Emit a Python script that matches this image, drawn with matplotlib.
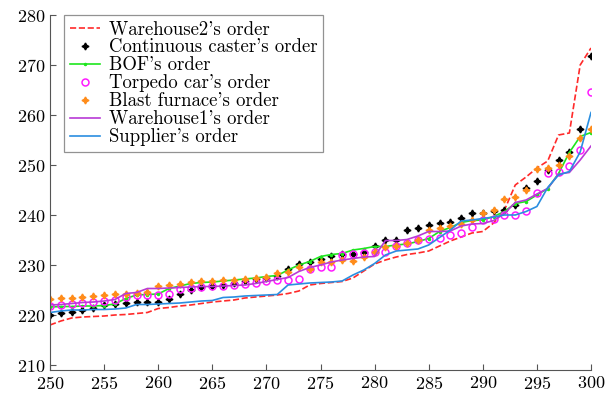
import matplotlib
matplotlib.use("Agg")
import matplotlib.pyplot as plt

plt.rcParams['font.family'] = ['cmr10', 'DejaVu Serif']
plt.rcParams['mathtext.fontset'] = 'cm'
plt.rcParams['axes.formatter.use_mathtext'] = True

t = list(range(250, 301))

warehouse2 = [218.0, 218.8, 219.4, 219.6, 219.7, 219.8, 220.0, 220.1, 220.3, 220.5,
              221.3, 221.5, 221.8, 222.0, 222.3, 222.6, 222.8, 223.0, 223.4, 223.6,
              223.8, 224.0, 224.3, 224.8, 226.0, 226.3, 226.5, 226.7, 227.4, 228.8,
              230.2, 231.0, 231.6, 232.1, 232.4, 232.8, 233.8, 234.8, 235.6, 236.4,
              236.7, 238.4, 241.0, 246.0, 247.6, 249.4, 250.8, 256.0, 256.4, 270.0,
              273.4]

caster = [220.1, 220.5, 220.7, 221.1, 221.5, 222.0, 222.2, 222.5, 222.7, 222.7,
          222.7, 223.3, 224.3, 225.1, 225.7, 225.8, 226.0, 226.4, 226.8, 227.2,
          227.5, 227.8, 229.3, 230.2, 230.7, 231.3, 231.8, 232.2, 232.3, 232.7,
          233.8, 235.1, 235.1, 237.0, 237.5, 238.0, 238.5, 238.7, 239.5, 240.5,
          240.5, 240.9, 241.1, 242.0, 245.5, 246.9, 249.0, 251.1, 252.7, 257.3,
          271.8]

bof = [221.6, 221.7, 221.7, 221.8, 221.8, 221.9, 222.2, 223.3, 224.0, 224.1,
       224.2, 225.3, 225.8, 226.3, 226.5, 226.6, 226.8, 227.0, 227.2, 227.4,
       227.7, 227.9, 229.0, 230.0, 230.7, 231.7, 232.1, 232.3, 233.0, 233.3,
       233.7, 233.7, 234.0, 234.2, 234.7, 235.3, 236.7, 237.5, 238.5, 238.9,
       239.0, 239.7, 240.7, 242.3, 242.7, 244.0, 245.3, 248.3, 252.5, 255.7,
       256.5]

torpedo = [221.9, 222.0, 222.2, 222.5, 222.7, 222.9, 223.1, 223.6, 224.0, 224.0,
           224.1, 224.2, 225.3, 225.5, 225.7, 225.8, 225.8, 226.0, 226.3, 226.5,
           226.9, 227.0, 227.1, 227.3, 229.3, 229.7, 229.7, 232.1, 232.2, 232.5,
           232.7, 232.7, 233.8, 234.5, 235.0, 235.3, 235.5, 236.0, 236.5, 237.7,
           239.1, 239.3, 240.0, 240.0, 240.9, 244.4, 248.4, 248.7, 249.8, 253.1,
           264.6]

furnace = [223.3, 223.5, 223.5, 223.7, 223.8, 224.0, 224.2, 224.3, 224.4, 224.6,
           225.8, 226.0, 226.3, 226.6, 226.8, 226.9, 227.0, 227.1, 227.3, 227.5,
           227.7, 228.5, 228.7, 229.6, 229.3, 230.6, 230.7, 231.0, 230.9, 231.7,
           232.7, 233.7, 233.8, 234.5, 235.0, 237.0, 237.5, 237.8, 238.3, 239.1,
           240.4, 241.0, 243.3, 243.7, 245.0, 249.2, 249.5, 250.1, 251.8, 255.5,
           257.3]

warehouse1 = [222.0, 222.1, 222.3, 222.5, 222.6, 222.8, 223.1, 224.3, 224.5, 225.3,
              225.3, 225.4, 225.5, 225.6, 225.7, 225.7, 225.8, 225.9, 226.0, 226.3,
              226.7, 227.1, 227.5, 228.7, 229.5, 230.0, 230.6, 231.0, 231.3, 231.6,
              231.7, 234.9, 234.9, 235.1, 235.8, 236.7, 236.7, 236.8, 237.8, 238.2,
              238.3, 238.9, 240.3, 242.5, 243.0, 244.2, 245.3, 248.2, 248.5, 251.0,
              253.8]

supplier = [220.5, 220.8, 221.0, 221.0, 221.1, 221.1, 221.2, 221.4, 222.1, 222.1,
            222.2, 222.3, 222.4, 222.6, 222.8, 222.9, 223.5, 223.6, 223.8, 223.9,
            224.0, 224.1, 226.0, 226.2, 226.4, 226.5, 226.6, 226.8, 228.0, 229.0,
            230.3, 232.0, 232.8, 233.0, 233.2, 234.0, 235.5, 237.0, 238.8, 239.0,
            239.3, 239.6, 240.0, 240.0, 240.7, 241.7, 245.5, 248.0, 248.7, 252.6,
            260.5]

fig = plt.figure(figsize=(6.05, 3.93), dpi=100)
ax = fig.add_axes([50 / 605, 23 / 393, 541 / 605, 355 / 393])

star = (4, 1, 0)
ax.plot(t, warehouse2, '--', color='#ff2a2a', lw=1.2, label="Warehouse2's order")
ax.plot(t, caster, linestyle='none', marker=star, ms=5, color='black',
        label="Continuous caster's order")
ax.plot(t, bof, '-', color='#1ee61e', lw=1.2, marker='.', ms=3, label="BOF's order")
ax.plot(t, torpedo, linestyle='none', marker='o', ms=5, mfc='none', mec='#ff1aff',
        mew=1.1, label="Torpedo car's order")
ax.plot(t, furnace, linestyle='none', marker=star, ms=5, color='#ff8c1a',
        label="Blast furnace's order")
ax.plot(t, warehouse1, '-', color='#b83ad6', lw=1.2, label="Warehouse1's order")
ax.plot(t, supplier, '-', color='#2a8ee0', lw=1.2, label="Supplier's order")

ax.set_xlim(250, 300)
ax.set_ylim(209, 280)
ax.set_xticks(range(250, 301, 5))
ax.set_yticks(range(210, 281, 10))
ax.tick_params(direction='in', labelsize=13, length=4, color='#555555')
ax.spines['top'].set_visible(False)
ax.spines['right'].set_visible(False)
for s in ['left', 'bottom']:
    ax.spines[s].set_color('#555555')

leg = ax.legend(loc='upper left', bbox_to_anchor=(0.026, 1.0), fontsize=13.5,
                frameon=True, fancybox=False, edgecolor='#777777',
                handlelength=1.6, labelspacing=0.0, borderpad=0.3,
                handletextpad=0.5, borderaxespad=0.0)
leg.get_frame().set_linewidth(0.9)

fig.savefig('out.png', dpi=100)
